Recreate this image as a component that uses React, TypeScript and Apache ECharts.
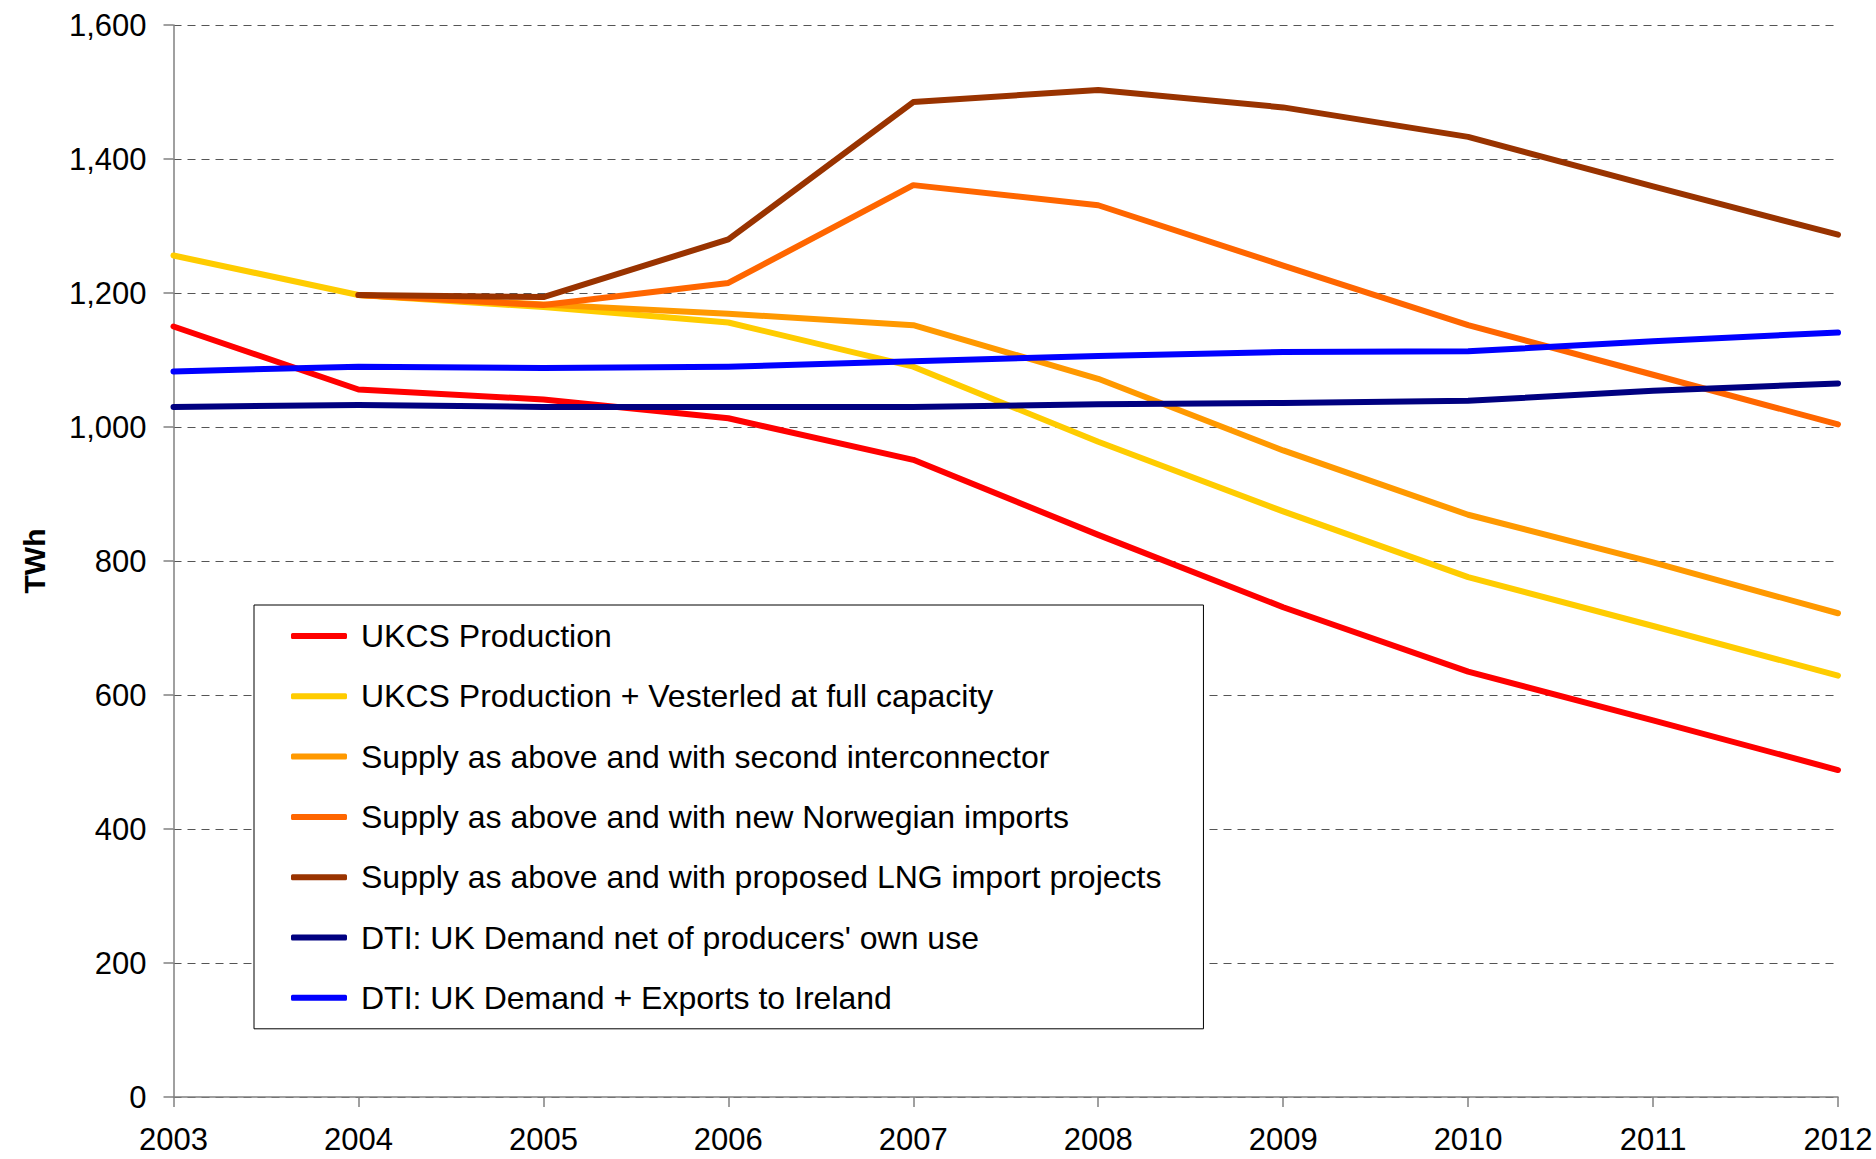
import React, { useEffect, useRef } from "react";
import * as echarts from "echarts";

const years = ["2003", "2004", "2005", "2006", "2007", "2008", "2009", "2010", "2011", "2012"];

const ukcsProduction = [1150, 1056, 1041, 1013, 951, 839, 731, 635, 562, 488];
const vesterled = [1256, 1197, 1179, 1156, 1090, 978, 874, 776, 703, 629];
const secondInterconnector = [null, 1197, 1183, 1169, 1152, 1072, 965, 869, 798, 722];
const norwegianImports = [null, 1197, 1182, 1215, 1361, 1331, 1241, 1152, 1078, 1004];
const lngImports = [null, 1197, 1194, 1280, 1485, 1503, 1477, 1433, 1359, 1287];
const ukDemand = [1030, 1033, 1030, 1030, 1030, 1034, 1036, 1039, 1054, 1065];
const ukDemandExports = [1083, 1090, 1088, 1090, 1098, 1106, 1112, 1113, 1128, 1141];

const seriesNames = [
  "UKCS Production",
  "UKCS Production + Vesterled at full capacity",
  "Supply as above and with second interconnector",
  "Supply as above and with new Norwegian imports",
  "Supply as above and with proposed LNG import projects",
  "DTI: UK Demand net of producers' own use",
  "DTI: UK Demand + Exports to Ireland",
];
const seriesColors = ["#FF0000", "#FFCC00", "#FF9900", "#FF6600", "#993300", "#000080", "#0000FF"];
const seriesData = [
  ukcsProduction,
  vesterled,
  secondInterconnector,
  norwegianImports,
  lngImports,
  ukDemand,
  ukDemandExports,
];

const FONT = "'Liberation Sans', Arial, sans-serif";

export default function App() {
  const ref = useRef<HTMLDivElement>(null);

  useEffect(() => {
    if (!ref.current) return;
    const chart = echarts.init(ref.current, undefined, { renderer: "svg" });
    chart.setOption({
      animation: false,
      backgroundColor: "#ffffff",
      grid: { left: 173.5, right: 38, top: 25, bottom: 62, containLabel: false },
      legend: {
        orient: "vertical",
        left: 254,
        top: 605,
        padding: [15, 42, 15, 37],
        itemWidth: 56,
        itemHeight: 6,
        itemGap: 28.3,
        icon: "roundRect",
        backgroundColor: "#ffffff",
        borderColor: "#000000",
        borderWidth: 1,
        selectedMode: false,
        data: seriesNames,
        textStyle: {
          fontSize: 32,
          fontFamily: FONT,
          color: "#000000",
          lineHeight: 30,
          padding: [0, 0, 0, 9],
        },
      },
      xAxis: {
        type: "category",
        data: years,
        boundaryGap: false,
        axisLine: { show: true, lineStyle: { color: "#808080", width: 1.5 } },
        axisTick: { show: true, length: 10, lineStyle: { color: "#808080", width: 1.5 } },
        axisLabel: { fontSize: 31, fontFamily: FONT, color: "#000000", margin: 27, lineHeight: 31 },
        splitLine: { show: false },
      },
      yAxis: {
        type: "value",
        min: 0,
        max: 1600,
        interval: 200,
        name: "TWh",
        nameLocation: "middle",
        nameGap: 124,
        nameTextStyle: { fontSize: 30, fontWeight: "bold", fontFamily: FONT, color: "#000000" },
        axisLine: { show: true, lineStyle: { color: "#808080", width: 1.5 } },
        axisTick: { show: true, length: 10, lineStyle: { color: "#808080", width: 1.5 } },
        axisLabel: {
          fontSize: 31,
          fontFamily: FONT,
          color: "#000000",
          margin: 27,
          formatter: (v: number) => v.toLocaleString("en-US"),
        },
        splitLine: { show: true, lineStyle: { color: "#555555", width: 1.2, type: [8, 6] } },
      },
      series: seriesNames.map((name, i) => ({
        name,
        type: "line",
        data: seriesData[i],
        symbol: "none",
        showSymbol: false,
        connectNulls: false,
        color: seriesColors[i],
        lineStyle: { color: seriesColors[i], width: 6, cap: "round", join: "round" },
        z: 2 + i,
      })),
    });
    return () => chart.dispose();
  }, []);

  return (
    <div
      ref={ref}
      style={{ position: "fixed", left: 0, top: 0, width: 1876, height: 1159 }}
    />
  );
}
